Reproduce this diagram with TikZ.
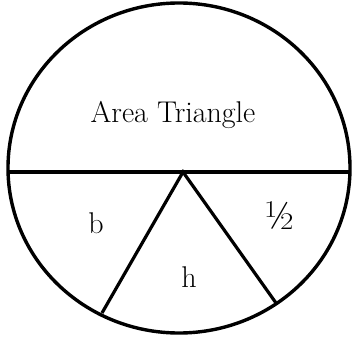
\documentclass[tikz,border=0pt]{standalone}
\usepackage{fontspec}
\usepackage{tikz}
\usetikzlibrary{calc}

\begin{document}
\begin{tikzpicture}[x=1pt,y=-1pt,line width=3.2pt]
\useasboundingbox (0,0) rectangle (352,336);
\draw[line width=3.4pt] (179,168) ellipse [x radius=171,y radius=165];
\coordinate (west) at (8,172);
\coordinate (east) at (350,172);
\coordinate (apex) at (183,172);
\coordinate (footl) at (102,313);
\coordinate (footr) at (276,303);
\draw (west)--(east);
\draw (footl)--(apex)--(footr);
\node[font=\fontsize{30}{36}\selectfont,anchor=base] (title) at (173,123) {Area Triangle};
\node[font=\fontsize{30}{36}\selectfont,anchor=base] (b) at (96,233) {b};
\node[font=\fontsize{30}{36}\selectfont,anchor=base] (h) at (189,287) {h};
\node[font=\fontsize{40}{46}\selectfont,anchor=base] (half) at (280,229) {½};
\end{tikzpicture}
\end{document}
